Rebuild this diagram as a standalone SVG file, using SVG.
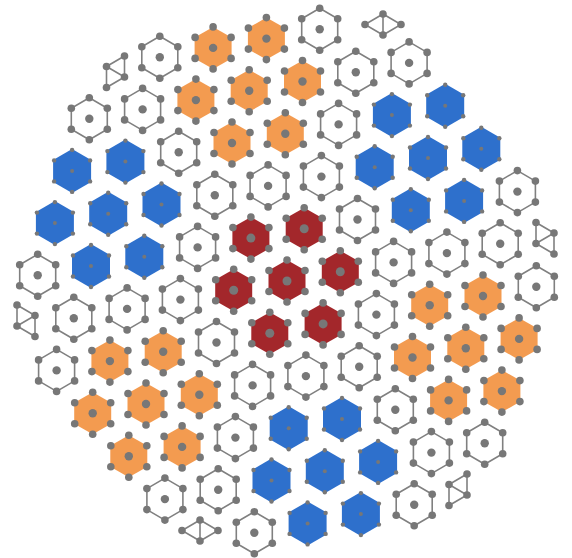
<svg xmlns="http://www.w3.org/2000/svg" xmlns:xlink="http://www.w3.org/1999/xlink" width="572" height="558" viewBox="0 0 572 558">
<style>
.e{fill:none;stroke:#808080;stroke-width:1.6}
.d{fill:#777777}
.fr{fill:#A3272B}
.fo{fill:#F39B50}
.fb{fill:#2E70CC}
</style>
<defs>
<g id="vd" class="d"><circle cx="0" cy="-21" r="3.8"/><circle cx="18" cy="-10.5" r="3.8"/><circle cx="18" cy="10.5" r="3.8"/><circle cx="0" cy="21" r="3.8"/><circle cx="-18" cy="10.5" r="3.8"/><circle cx="-18" cy="-10.5" r="3.8"/></g>
<g id="hw"><polygon class="e" points="0,-21 18,-10.5 18,10.5 0,21 -18,10.5 -18,-10.5"/><use href="#vd"/><circle class="d" r="4.2"/></g>
<g id="hr"><polygon class="fr" points="0,-21 18.5,-10.5 18.5,10.5 0,21 -18.5,10.5 -18.5,-10.5"/><use href="#vd"/><circle class="d" r="4.5"/></g>
<g id="ho"><polygon class="fo" points="0,-21 18.5,-10.5 18.5,10.5 0,21 -18.5,10.5 -18.5,-10.5"/><use href="#vd"/><circle class="d" r="4.2"/></g>
<g id="hb"><polygon class="fb" points="0,-22 19,-11 19,11 0,22 -19,11 -19,-11"/><g class="d"><circle cx="0" cy="-21" r="2.2"/><circle cx="18" cy="-10.5" r="2.2"/><circle cx="18" cy="10.5" r="2.2"/><circle cx="0" cy="21" r="2.2"/><circle cx="-18" cy="10.5" r="2.2"/><circle cx="-18" cy="-10.5" r="2.2"/><circle r="2"/></g></g>
</defs>
<rect width="572" height="558" fill="#ffffff"/>
<g id="nodes">
<!-- j=5 -->
<g id="p_tl"><path class="e" d="M0,0 L18,-10.5 L18,10.5 L0,21 Z M0,0 L18,10.5 M0,0 L0,21" transform="translate(106.5,66.5)"/><g class="d" transform="translate(106.5,66.5)"><circle r="3.8"/><circle cx="18" cy="-10.5" r="3.8"/><circle cx="18" cy="10.5" r="3.8"/><circle cx="0" cy="21" r="3.8"/></g></g>
<g id="n_m4_5"><use href="#hw" x="159.8" y="57.2"/></g>
<g id="n_m3_5"><use href="#ho" x="213.1" y="47.9"/></g>
<g id="n_m2_5"><use href="#ho" x="266.4" y="38.6"/></g>
<g id="n_m1_5"><use href="#hw" x="319.7" y="29.3"/></g>
<g id="p_tr"><path class="e" d="M0,0 L-18,10.5 L0,21 L18,10.5 Z M0,0 L0,21" transform="translate(383,14)"/><g class="d" transform="translate(383,14)"><circle r="3.8"/><circle cx="-18" cy="10.5" r="3.8"/><circle cx="18" cy="10.5" r="3.8"/><circle cx="0" cy="21" r="3.8"/></g></g>
<!-- j=4 -->
<g id="n_m5_4"><use href="#hw" x="89.3" y="118.7"/></g>
<g id="n_m4_4"><use href="#hw" x="142.6" y="109.4"/></g>
<g id="n_m3_4"><use href="#ho" x="195.9" y="100.1"/></g>
<g id="n_m2_4"><use href="#ho" x="249.2" y="90.8"/></g>
<g id="n_m1_4"><use href="#ho" x="302.5" y="81.5"/></g>
<g id="n_0_4"><use href="#hw" x="355.8" y="72.2"/></g>
<g id="n_1_4"><use href="#hw" x="409.1" y="62.9"/></g>
<!-- j=3 -->
<g id="n_m5_3"><use href="#hb" x="72.1" y="170.9"/></g>
<g id="n_m4_3"><use href="#hb" x="125.4" y="161.6"/></g>
<g id="n_m3_3"><use href="#hw" x="178.7" y="152.3"/></g>
<g id="n_m2_3"><use href="#ho" x="232" y="143"/></g>
<g id="n_m1_3"><use href="#ho" x="285.3" y="133.7"/></g>
<g id="n_0_3"><use href="#hw" x="338.6" y="124.4"/></g>
<g id="n_1_3"><use href="#hb" x="391.9" y="115.1"/></g>
<g id="n_2_3"><use href="#hb" x="445.2" y="105.8"/></g>
<!-- j=2 -->
<g id="n_m5_2"><use href="#hb" x="54.9" y="223.1"/></g>
<g id="n_m4_2"><use href="#hb" x="108.2" y="213.8"/></g>
<g id="n_m3_2"><use href="#hb" x="161.5" y="204.5"/></g>
<g id="n_m2_2"><use href="#hw" x="214.8" y="195.2"/></g>
<g id="n_m1_2"><use href="#hw" x="268.1" y="185.9"/></g>
<g id="n_0_2"><use href="#hw" x="321.4" y="176.6"/></g>
<g id="n_1_2"><use href="#hb" x="374.7" y="167.3"/></g>
<g id="n_2_2"><use href="#hb" x="428" y="158"/></g>
<g id="n_3_2"><use href="#hb" x="481.3" y="148.7"/></g>
<!-- j=1 -->
<g id="n_m5_1"><use href="#hw" x="37.7" y="275.3"/></g>
<g id="n_m4_1"><use href="#hb" x="91" y="266"/></g>
<g id="n_m3_1"><use href="#hb" x="144.3" y="256.7"/></g>
<g id="n_m2_1"><use href="#hw" x="197.6" y="247.4"/></g>
<g id="n_m1_1"><use href="#hr" x="250.9" y="238.1"/></g>
<g id="n_0_1"><use href="#hr" x="304.2" y="228.8"/></g>
<g id="n_1_1"><use href="#hw" x="357.5" y="219.5"/></g>
<g id="n_2_1"><use href="#hb" x="410.8" y="210.2"/></g>
<g id="n_3_1"><use href="#hb" x="464.1" y="200.9"/></g>
<g id="n_4_1"><use href="#hw" x="517.4" y="191.6"/></g>
<!-- j=0 -->
<g id="p_l"><path class="e" d="M0,0 L0,-21 L18,-10.5 L18,10.5 Z M0,0 L18,-10.5" transform="translate(17,326)"/><g class="d" transform="translate(17,326)"><circle r="3.8"/><circle cx="0" cy="-21" r="3.8"/><circle cx="18" cy="-10.5" r="3.8"/><circle cx="18" cy="10.5" r="3.8"/></g></g>
<g id="n_m4_0"><use href="#hw" x="73.8" y="318.2"/></g>
<g id="n_m3_0"><use href="#hw" x="127.1" y="308.9"/></g>
<g id="n_m2_0"><use href="#hw" x="180.4" y="299.6"/></g>
<g id="n_m1_0"><use href="#hr" x="233.7" y="290.3"/></g>
<g id="n_0_0"><use href="#hr" x="287" y="281"/></g>
<g id="n_1_0"><use href="#hr" x="340.3" y="271.7"/></g>
<g id="n_2_0"><use href="#hw" x="393.6" y="262.4"/></g>
<g id="n_3_0"><use href="#hw" x="446.9" y="253.1"/></g>
<g id="n_4_0"><use href="#hw" x="500.2" y="243.8"/></g>
<g id="p_r"><path class="e" d="M0,0 L-18,-10.5 L-18,10.5 L0,21 Z M0,0 L-18,10.5" transform="translate(554,233)"/><g class="d" transform="translate(554,233)"><circle r="3.8"/><circle cx="-18" cy="-10.5" r="3.8"/><circle cx="-18" cy="10.5" r="3.8"/><circle cx="0" cy="21" r="3.8"/></g></g>
<!-- j=-1 -->
<g id="n_m4_m1"><use href="#hw" x="56.6" y="370.4"/></g>
<g id="n_m3_m1"><use href="#ho" x="109.9" y="361.1"/></g>
<g id="n_m2_m1"><use href="#ho" x="163.2" y="351.8"/></g>
<g id="n_m1_m1"><use href="#hw" x="216.5" y="342.5"/></g>
<g id="n_0_m1"><use href="#hr" x="269.8" y="333.2"/></g>
<g id="n_1_m1"><use href="#hr" x="323.1" y="323.9"/></g>
<g id="n_2_m1"><use href="#hw" x="376.4" y="314.6"/></g>
<g id="n_3_m1"><use href="#ho" x="429.7" y="305.3"/></g>
<g id="n_4_m1"><use href="#ho" x="483" y="296"/></g>
<g id="n_5_m1"><use href="#hw" x="536.3" y="286.7"/></g>
<!-- j=-2 -->
<g id="n_m3_m2"><use href="#ho" x="92.7" y="413.3"/></g>
<g id="n_m2_m2"><use href="#ho" x="146" y="404"/></g>
<g id="n_m1_m2"><use href="#ho" x="199.3" y="394.7"/></g>
<g id="n_0_m2"><use href="#hw" x="252.6" y="385.4"/></g>
<g id="n_1_m2"><use href="#hw" x="305.9" y="376.1"/></g>
<g id="n_2_m2"><use href="#hw" x="359.2" y="366.8"/></g>
<g id="n_3_m2"><use href="#ho" x="412.5" y="357.5"/></g>
<g id="n_4_m2"><use href="#ho" x="465.8" y="348.2"/></g>
<g id="n_5_m2"><use href="#ho" x="519.1" y="338.9"/></g>
<!-- j=-3 -->
<g id="n_m2_m3"><use href="#ho" x="128.8" y="456.2"/></g>
<g id="n_m1_m3"><use href="#ho" x="182.1" y="446.9"/></g>
<g id="n_0_m3"><use href="#hw" x="235.4" y="437.6"/></g>
<g id="n_1_m3"><use href="#hb" x="288.7" y="428.3"/></g>
<g id="n_2_m3"><use href="#hb" x="342" y="419"/></g>
<g id="n_3_m3"><use href="#hw" x="395.3" y="409.7"/></g>
<g id="n_4_m3"><use href="#ho" x="448.6" y="400.4"/></g>
<g id="n_5_m3"><use href="#ho" x="501.9" y="391.1"/></g>
<!-- j=-4 -->
<g id="n_m1_m4"><use href="#hw" x="164.9" y="499.1"/></g>
<g id="n_0_m4"><use href="#hw" x="218.2" y="489.8"/></g>
<g id="n_1_m4"><use href="#hb" x="271.5" y="480.5"/></g>
<g id="n_2_m4"><use href="#hb" x="324.8" y="471.2"/></g>
<g id="n_3_m4"><use href="#hb" x="378.1" y="461.9"/></g>
<g id="n_4_m4"><use href="#hw" x="431.4" y="452.6"/></g>
<g id="n_5_m4"><use href="#hw" x="484.7" y="443.3"/></g>
<!-- j=-5 -->
<g id="p_bl"><path class="e" d="M0,0 L-18,-10.5 L0,-21 L18,-10.5 Z M0,0 L0,-21" transform="translate(200,541)"/><g class="d" transform="translate(200,541)"><circle r="3.8"/><circle cx="-18" cy="-10.5" r="3.8"/><circle cx="0" cy="-21" r="3.8"/><circle cx="18" cy="-10.5" r="3.8"/></g></g>
<g id="n_1_m5"><use href="#hw" x="254.3" y="532.7"/></g>
<g id="n_2_m5"><use href="#hb" x="307.6" y="523.4"/></g>
<g id="n_3_m5"><use href="#hb" x="360.9" y="514.1"/></g>
<g id="n_4_m5"><use href="#hw" x="414.2" y="504.8"/></g>
<g id="p_br"><path class="e" d="M0,0 L0,-21 L-18,-10.5 L-18,10.5 Z M0,0 L-18,-10.5" transform="translate(467,495)"/><g class="d" transform="translate(467,495)"><circle r="3.8"/><circle cx="0" cy="-21" r="3.8"/><circle cx="-18" cy="-10.5" r="3.8"/><circle cx="-18" cy="10.5" r="3.8"/></g></g>
</g>
<g id="connectors"/>
</svg>
